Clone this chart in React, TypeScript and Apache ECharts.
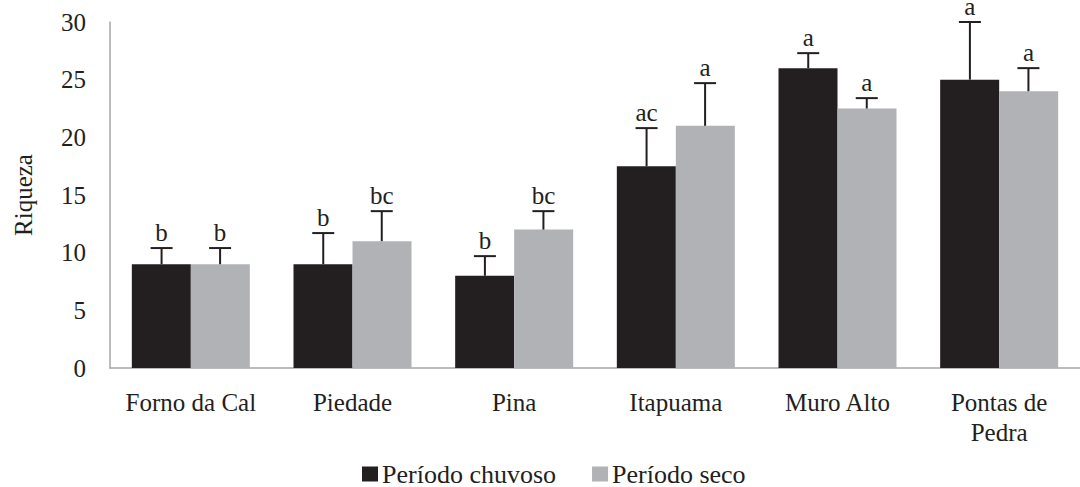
import React, { useEffect, useRef } from "react";
import * as echarts from "echarts";

const categories = ["Forno da Cal", "Piedade", "Pina", "Itapuama", "Muro Alto", "Pontas de\nPedra"];
const chuvoso = [9, 9, 8, 17.5, 26, 25];
const chuvosoErr = [1.4, 2.7, 1.7, 3.3, 1.3, 5];
const chuvosoLetters = ["b", "b", "b", "ac", "a", "a"];
const seco = [9, 11, 12, 21, 22.5, 24];
const secoErr = [1.4, 2.6, 1.6, 3.7, 0.9, 2];
const secoLetters = ["b", "bc", "bc", "a", "a", "a"];
const yTicks = [0, 5, 10, 15, 20, 25, 30];

const DARK = "#231f20";
const LIGHT = "#b1b2b5";
const FONT = "'Liberation Serif', 'DejaVu Serif', serif";
const FS = 25;

function errorSeries(values: number[], errs: number[], letters: string[], offset: number) {
  return {
    type: "custom",
    silent: true,
    z: 5,
    data: values.map((v, i) => [i, v, v + errs[i], letters[i]]),
    renderItem: (params: any, api: any) => {
      const base = api.coord([api.value(0), api.value(1)]);
      const top = api.coord([api.value(0), api.value(2)]);
      const band = api.size([1, 0])[0];
      const x = base[0] + band * offset;
      const cap = 11;
      const stroke = { stroke: "#231f20", lineWidth: 2 };
      return {
        type: "group",
        children: [
          { type: "line", shape: { x1: x, y1: base[1], x2: x, y2: top[1] }, style: stroke },
          { type: "line", shape: { x1: x - cap, y1: top[1], x2: x + cap, y2: top[1] }, style: stroke },
          {
            type: "text",
            x,
            y: top[1] - 3,
            style: {
              text: api.value(3),
              align: "center",
              verticalAlign: "bottom",
              fontFamily: FONT,
              fontSize: FS,
              fill: "#231f20",
            },
          },
        ],
      };
    },
  };
}

export default function App() {
  const ref = useRef<HTMLDivElement>(null);
  useEffect(() => {
    if (!ref.current) return;
    const chart = echarts.init(ref.current, null, { renderer: "svg" });
    chart.setOption({
      animation: false,
      textStyle: { fontFamily: FONT },
      grid: { left: 110, right: -8, top: 22, bottom: 119 },
      legend: {
        left: 357,
        top: 456,
        itemWidth: 16,
        itemHeight: 15,
        itemGap: 36,
        icon: "rect",
        textStyle: { fontFamily: FONT, fontSize: 26, color: "#231f20", padding: [0, 0, 0, -1] },
        data: ["Período chuvoso", "Período seco"],
      },
      xAxis: {
        type: "category",
        data: categories,
        axisLine: { lineStyle: { color: "#a6a6a6", width: 1.5 } },
        axisTick: { show: false },
        axisLabel: { interval: 0, fontFamily: FONT, fontSize: FS, color: "#231f20", margin: 19, lineHeight: 30 },
      },
      yAxis: {
        type: "value",
        min: yTicks[0],
        max: yTicks[yTicks.length - 1],
        interval: 5,
        name: "Riqueza",
        nameLocation: "middle",
        nameGap: 74,
        nameTextStyle: { fontFamily: FONT, fontSize: 25, color: "#231f20" },
        axisLine: { show: true, lineStyle: { color: "#a6a6a6", width: 1.5 } },
        axisTick: { show: false },
        splitLine: { show: false },
        axisLabel: { fontFamily: FONT, fontSize: FS, color: "#231f20", margin: 24 },
      },
      series: [
        { name: "Período chuvoso", type: "bar", data: chuvoso, barWidth: 59, barGap: "0%", itemStyle: { color: DARK } },
        { name: "Período seco", type: "bar", data: seco, barWidth: 59, barGap: "0%", itemStyle: { color: LIGHT } },
        errorSeries(chuvoso, chuvosoErr, chuvosoLetters, -59 / 163 / 2),
        errorSeries(seco, secoErr, secoLetters, 59 / 163 / 2),
      ],
    });
    return () => chart.dispose();
  }, []);
  return (
    <div
      ref={ref}
      style={{ position: "fixed", left: 0, top: 0, width: 1080, height: 487, background: "#fff" }}
    />
  );
}
